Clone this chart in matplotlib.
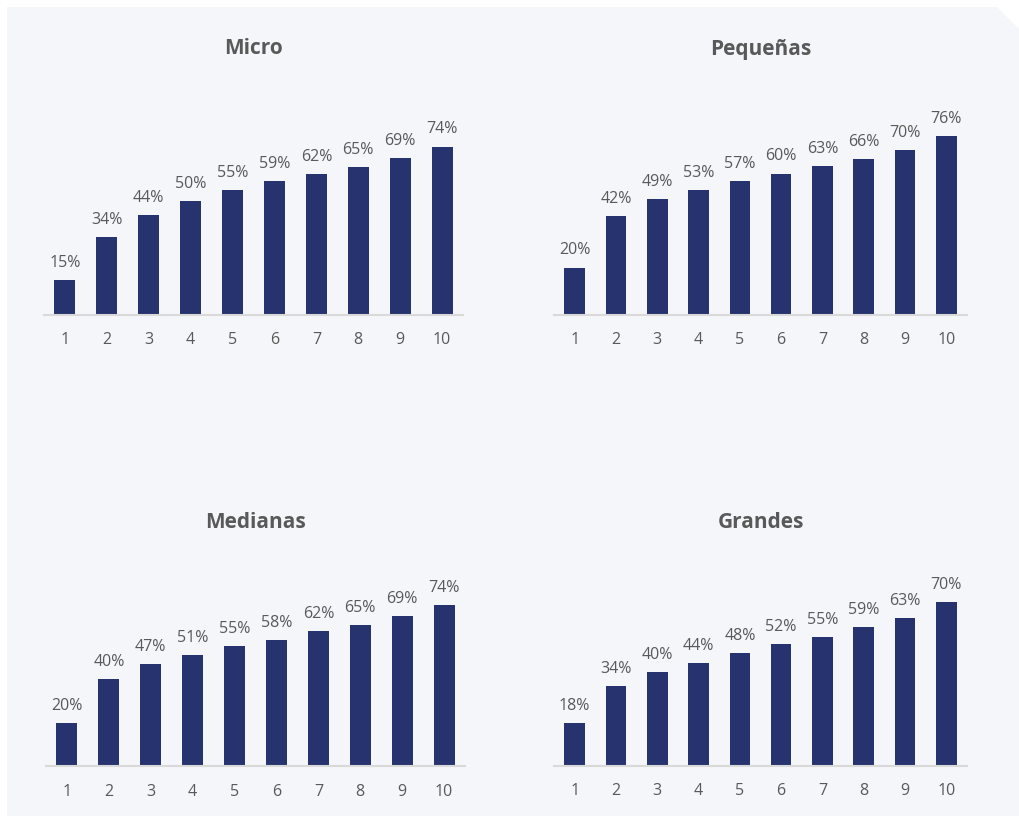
import matplotlib
matplotlib.use("Agg")
import matplotlib.pyplot as plt
from matplotlib.patches import Polygon

plt.rcParams['font.family'] = ['Open Sans', 'DejaVu Sans']

categories = ["1", "2", "3", "4", "5", "6", "7", "8", "9", "10"]
titles = ["Micro", "Pequeñas", "Medianas", "Grandes"]
micro = [15, 34, 44, 50, 55, 59, 62, 65, 69, 74]
pequenas = [20, 42, 49, 53, 57, 60, 63, 66, 70, 76]
medianas = [20, 40, 47, 51, 55, 58, 62, 65, 69, 74]
grandes = [18, 34, 40, 44, 48, 52, 55, 59, 63, 70]
series = [micro, pequenas, medianas, grandes]

W, H = 1020, 818
fig = plt.figure(figsize=(W / 100, H / 100), dpi=100, facecolor="white")

# background panel with cut corner (pixel coords from top-left)
pts = [(7, 7), (997, 7), (1020, 30), (1020, 816), (7, 816)]
poly = Polygon([(x / W, 1 - y / H) for x, y in pts], closed=True,
               transform=fig.transFigure, facecolor="#f5f6fa",
               edgecolor="none", zorder=-10)
fig.patches.append(poly)

BAR = "#26336e"
TXT = "#595959"

# (left, right, baseline, px per unit, title y) in pixels
layout = [
    (44, 463, 314.5, 2.27, 49),
    (554, 967, 314.5, 2.35, 49),
    (46, 465, 766.3, 2.18, 522),
    (554, 967, 765.5, 2.34, 522),
]
axh = 220

for title, vals, (l, r, base, scale, ty) in zip(titles, series, layout):
    ax = fig.add_axes([l / W, 1 - base / H, (r - l) / W, axh / H])
    ax.set_zorder(5)
    ax.set_facecolor("none")
    x = list(range(1, len(categories) + 1))
    ax.bar(x, vals, width=0.5, color=BAR, zorder=2)
    ax.set_xlim(0.5, len(categories) + 0.5)
    ax.set_ylim(0, axh / scale)
    for xi, v in zip(x, vals):
        ax.annotate(f"{v}%", (xi, v), xytext=(0, 6.5), textcoords="offset points",
                    ha="center", va="bottom", fontsize=11.5, color=TXT)
    ax.set_xticks(x)
    ax.set_xticklabels(categories, fontsize=11.5, color=TXT)
    ax.tick_params(axis="x", length=0, pad=12.5)
    ax.set_yticks([])
    for s in ["top", "right", "left"]:
        ax.spines[s].set_visible(False)
    ax.spines["bottom"].set_color("#d9d9d9")
    ax.spines["bottom"].set_linewidth(1.5)
    fig.text((l + r) / 2 / W, 1 - ty / H, title, ha="center", va="center",
             fontsize=15, fontweight="bold", color=TXT)

fig.savefig("out.png", dpi=100, facecolor="white")
